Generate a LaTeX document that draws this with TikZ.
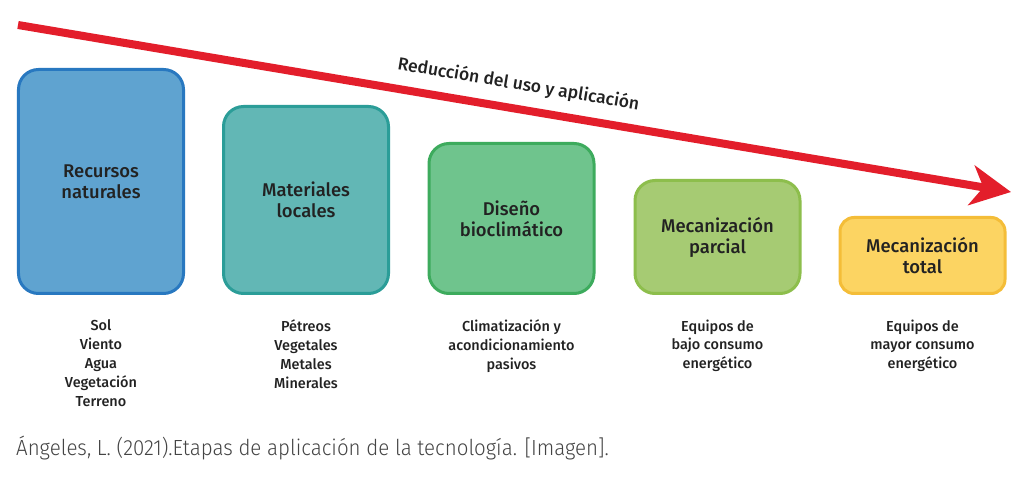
\documentclass[tikz,border=0pt]{standalone}
\usepackage{fontspec}
\setmainfont{Fira Sans}[BoldFont={Fira Sans Medium}]
\newfontfamily\citefont{Fira Sans Light}[FakeStretch=0.935]
\usetikzlibrary{arrows.meta}
\definecolor{arrowred}{HTML}{E31E2B}
\definecolor{fillA}{HTML}{5FA3D0}\definecolor{lineA}{HTML}{2878C0}
\definecolor{fillB}{HTML}{62B7B5}\definecolor{lineB}{HTML}{2B9D98}
\definecolor{fillC}{HTML}{6FC48D}\definecolor{lineC}{HTML}{3DAB5D}
\definecolor{fillD}{HTML}{A6CB73}\definecolor{lineD}{HTML}{8DBE4C}
\definecolor{fillE}{HTML}{FCD462}\definecolor{lineE}{HTML}{F4BD38}
\definecolor{txt}{HTML}{222222}
\definecolor{citegray}{HTML}{444444}
\tikzset{
  stage/.style={line width=3bp, rounded corners=20bp, minimum width=165bp,
    anchor=south, align=center, text=txt,
    font=\bfseries\fontsize{18.5}{21}\selectfont},
  desc/.style={anchor=north, align=center, text=txt,
    font=\bfseries\fontsize{14.5}{19}\selectfont},
}
\begin{document}
\begin{tikzpicture}[x=1bp,y=-1bp]
\useasboundingbox (0,0) rectangle (1024,480);
\fill[white] (0,0) rectangle (1024,480);
% arrow
\coordinate (start) at (18,25);
\coordinate (tip) at (1011,192);
\draw[arrowred, line width=8bp, -{Stealth[length=40bp, width=40bp, inset=12bp]}]
  (start) -- node[sloped, above=8bp, text=txt, font=\bfseries\fontsize{17.6}{19}\selectfont]{Reducción del uso y aplicación} (tip);
% boxes
\node[stage, fill=fillA, draw=lineA, minimum height=224bp] (s1) at (101,295) {Recursos\\naturales};
\node[stage, fill=fillB, draw=lineB, minimum height=187bp] (s2) at (306,295) {Materiales\\locales};
\node[stage, fill=fillC, draw=lineC, minimum height=150bp] (s3) at (511.5,295) {Diseño\\bioclimático};
\node[stage, fill=fillD, draw=lineD, minimum height=113bp] (s4) at (717.5,295) {Mecanización\\parcial};
\node[stage, fill=fillE, draw=lineE, minimum height=76bp, rounded corners=14bp] (s5) at (922.5,295) {Mecanización\\total};
% descriptions
\node[desc] (d1) at (101,316) {Sol\\Viento\\Agua\\Vegetación\\Terreno};
\node[desc] (d2) at (306,316) {Pétreos\\Vegetales\\Metales\\Minerales};
\node[desc] (d3) at (511.5,316) {Climatización y\\acondicionamiento\\pasivos};
\node[desc] (d4) at (717.5,316) {Equipos de\\bajo consumo\\energético};
\node[desc] (d5) at (922.5,316) {Equipos de\\mayor consumo\\energético};
% citation
\node[anchor=west, inner sep=0pt, text=citegray, font=\citefont\fontsize{22}{26}\selectfont] (cite) at (16,448) {Ángeles, L. (2021).Etapas de aplicación de la tecnología. [Imagen].};
\end{tikzpicture}
\end{document}
